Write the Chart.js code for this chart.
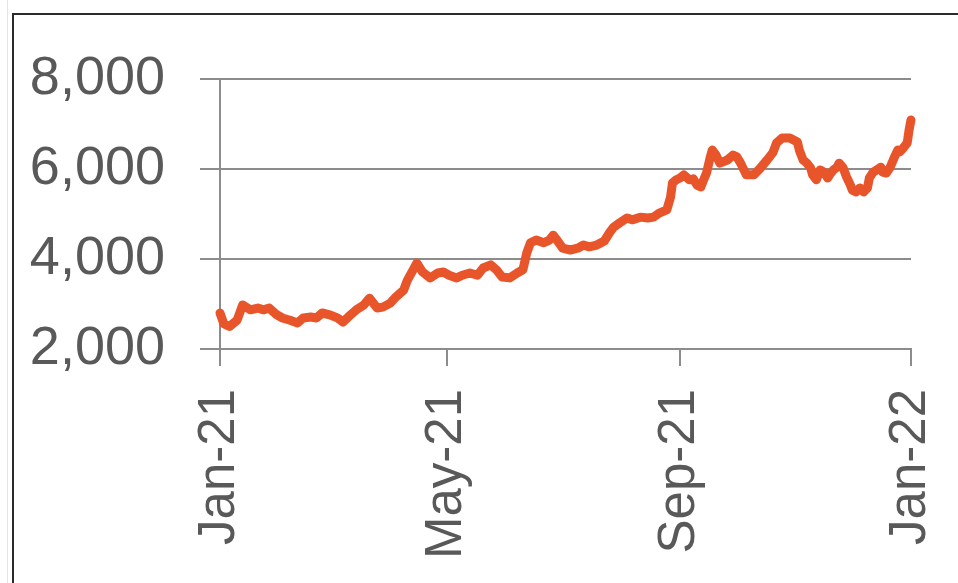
<!DOCTYPE html>
<html>
<head>
<meta charset="utf-8">
<script src="https://cdn.jsdelivr.net/npm/chart.js@4/dist/chart.umd.min.js"></script>
<style>
  html, body { margin: 0; padding: 0; background: #fff; }
  #wrap { position: relative; width: 958px; height: 583px; overflow: hidden; }
  #frame { position: absolute; left: 12px; top: 13px; width: 960px; height: 600px;
           border-top: 2px solid #2b2b2b; border-left: 2px solid #2b2b2b; pointer-events: none; }
  #edge { position: absolute; left: 7px; top: 0; width: 1px; height: 583px; background: #e4e4e4; }
  canvas { position: absolute; left: 0; top: 0; }
</style>
</head>
<body>
<div id="wrap">
  <div id="edge"></div>
  <canvas id="chart" width="958" height="583"></canvas>
  <div id="frame"></div>
</div>
<script>
// dias desde 1 jan 2021 e valores
const days = [0, 2, 5, 9, 12, 16, 20, 23, 26, 30, 33, 37, 41, 44, 48, 51, 54, 58, 62, 65,
  69, 72, 76, 79, 83, 86, 90, 93, 97, 99, 102, 104, 107, 111, 115, 118, 121, 125, 128, 132,
  136, 139, 143, 146, 149, 153, 157, 160, 162, 164, 167, 171, 174, 176, 178, 181, 185, 189, 192, 195,
  199, 203, 206, 208, 211, 215, 218, 222, 226, 229, 232, 236, 238, 239, 241, 243, 245, 248, 250, 252,
  254, 255, 257, 259, 260, 262, 264, 268, 271, 273, 275, 278, 282, 285, 289, 292, 294, 297, 301, 305,
  306, 308, 310, 312, 313, 315, 317, 319, 321, 322, 324, 326, 327, 329, 331, 333, 334, 336, 338, 340,
  342, 343, 345, 347, 349, 350, 352, 354, 356, 358, 359, 361, 363, 364, 365];
const values = [2800, 2560, 2500, 2640, 2980, 2870, 2910, 2870, 2910, 2760, 2690, 2640, 2580, 2690, 2710, 2690, 2800, 2760, 2690, 2600,
  2760, 2870, 2980, 3130, 2910, 2930, 3020, 3160, 3310, 3530, 3760, 3910, 3710, 3580, 3690, 3710, 3640, 3580, 3640, 3690,
  3640, 3800, 3870, 3760, 3600, 3580, 3690, 3760, 4130, 4360, 4420, 4360, 4420, 4530, 4420, 4240, 4200, 4240, 4310, 4270,
  4310, 4400, 4600, 4710, 4800, 4910, 4870, 4930, 4910, 4930, 5020, 5090, 5380, 5690, 5760, 5800, 5870, 5760, 5780, 5640,
  5600, 5710, 5910, 6270, 6420, 6310, 6130, 6200, 6310, 6270, 6130, 5870, 5870, 6000, 6200, 6360, 6580, 6690, 6690, 6600,
  6420, 6200, 6130, 6020, 5870, 5760, 5980, 5930, 5800, 5870, 5980, 6040, 6130, 6040, 5820, 5640, 5530, 5490, 5580, 5490,
  5580, 5800, 5930, 5980, 6040, 5930, 5910, 6040, 6240, 6420, 6380, 6470, 6580, 6870, 7090];

const tickDays = [0, 120, 243, 365];
const tickLabels = ['Jan-21', 'May-21', 'Sep-21', 'Jan-22'];
const yTicks = [2000, 4000, 6000, 8000];

const gray = '#8c8c8c';
const textGray = '#595959';
const family = "'Liberation Sans', Arial, sans-serif";

const points = days.map((d, i) => ({ x: d, y: values[i] }));

new Chart(document.getElementById('chart').getContext('2d'), {
    type: 'line',
    data: {
        datasets: [{
            data: points,
            borderColor: '#e8552b',
            borderWidth: 9,
            pointRadius: 0,
            tension: 0,
            borderJoinStyle: 'round',
            borderCapStyle: 'round',
            clip: false
        }]
    },
    options: {
        responsive: false,
        animation: false,
        layout: { padding: { left: 0, top: 79, right: 47, bottom: 0 } },
        plugins: { legend: { display: false }, tooltip: { enabled: false } },
        scales: {
            x: {
                type: 'linear',
                min: 0,
                max: 365,
                afterBuildTicks: scale => { scale.ticks = tickDays.map(v => ({ value: v })); },
                afterFit: scale => {
                    scale.height = 583 - 349;
                    scale.paddingLeft = 0;
                    scale.paddingRight = 0;
                },
                ticks: {
                    autoSkip: false,
                    minRotation: 90,
                    maxRotation: 90,
                    padding: 23,
                    color: textGray,
                    font: { family: family, size: 51 },
                    callback: (v) => tickLabels[tickDays.indexOf(v)]
                },
                grid: { drawOnChartArea: false, drawTicks: true, tickLength: 17, color: gray, lineWidth: 2 },
                border: { display: true, color: gray, width: 2 }
            },
            y: {
                min: 2000,
                max: 8000,
                afterBuildTicks: scale => { scale.ticks = yTicks.map(v => ({ value: v })); },
                afterFit: scale => {
                    scale.width = 220;
                    scale.paddingTop = 0;
                    scale.paddingBottom = 0;
                },
                ticks: {
                    padding: 35,
                    color: textGray,
                    font: { family: family, size: 54 },
                    callback: v => v.toLocaleString('en-US')
                },
                grid: { drawTicks: true, tickLength: 20, color: gray, lineWidth: 2 },
                border: { display: true, color: gray, width: 2 }
            }
        }
    }
});
</script>
</body>
</html>
